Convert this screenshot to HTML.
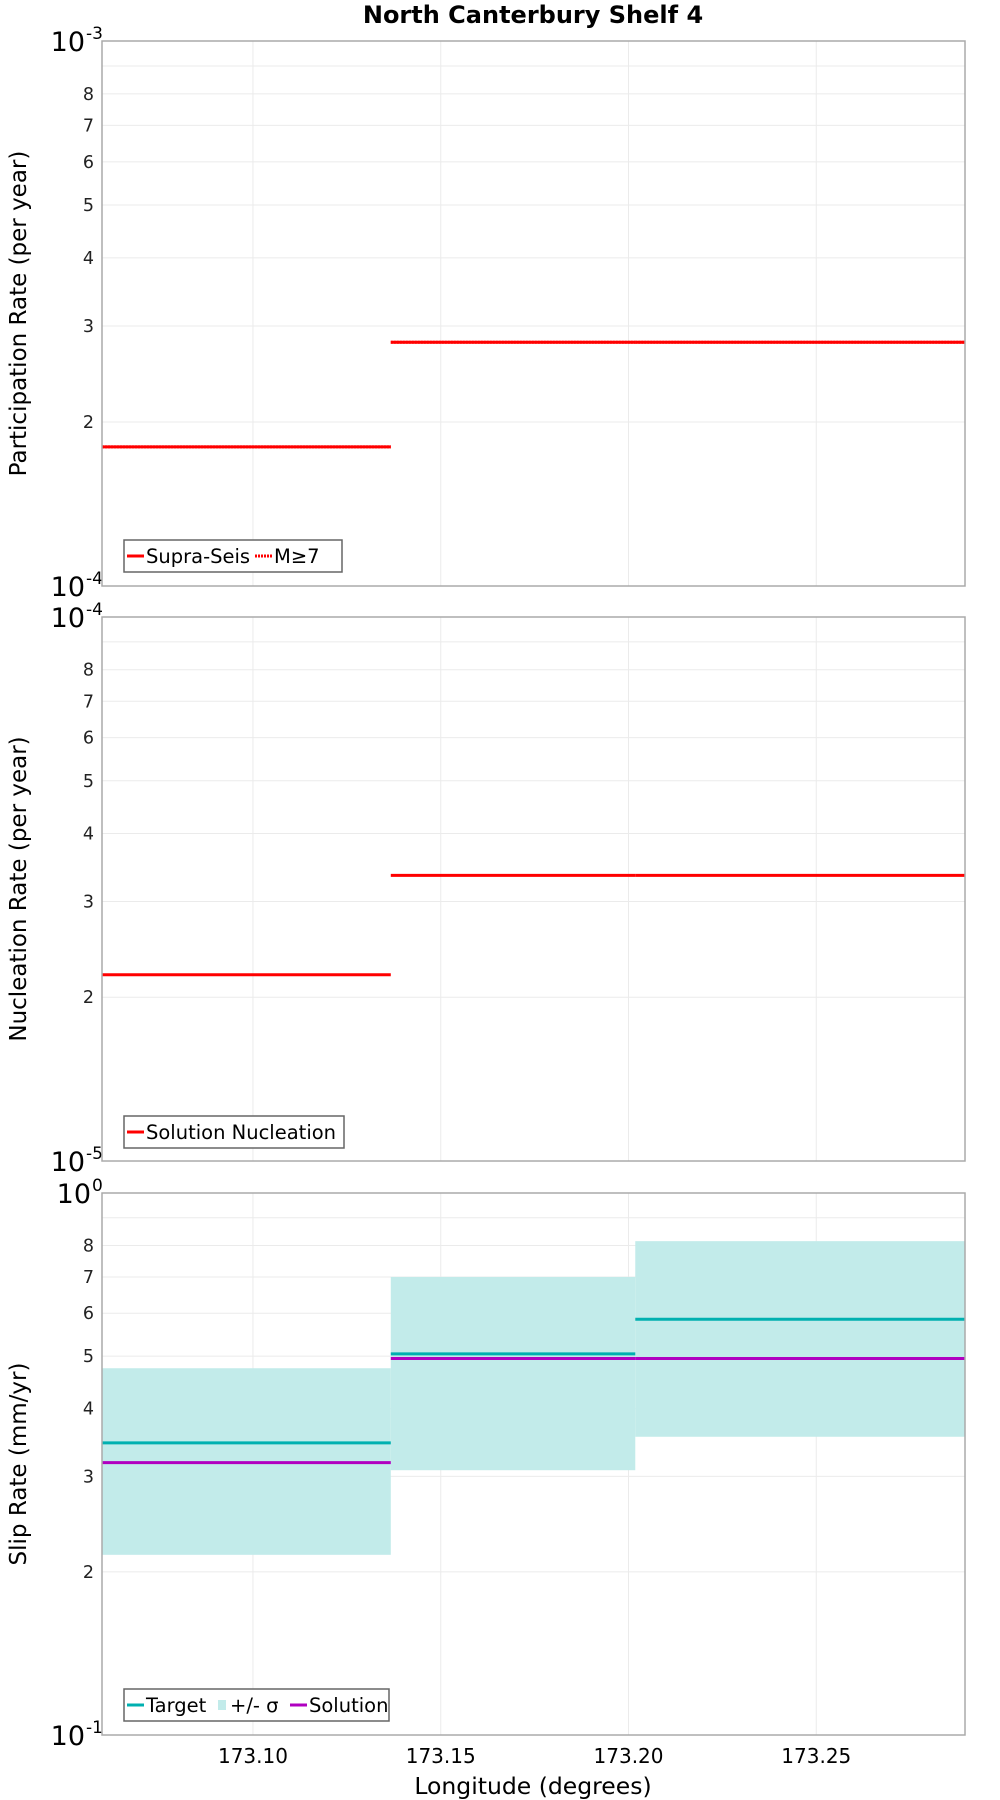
<!DOCTYPE html>
<html><head><meta charset="utf-8"><style>
body{margin:0;background:#fff;}
svg{display:block;font-family:"DejaVu Sans","Liberation Sans",sans-serif;}
</style></head><body>
<svg id="chart" width="1000" height="1800" viewBox="0 0 1000 1800">
<text x="533" y="23" text-anchor="middle" font-size="24" font-weight="bold">North Canterbury Shelf 4</text>
</svg>
<script>
const xTicks=[173.10,173.15,173.20,173.25];
const segEdges=[173.0598,173.1367,173.2018,173.2896];
const partSupra=[1.8e-4,2.8e-4,2.8e-4];
const partM7=[1.8e-4,2.8e-4,2.8e-4];
const nucl=[2.2e-5,3.35e-5,3.35e-5];
const slipTarget=[0.346,0.505,0.585];
const slipSolution=[0.318,0.495,0.495];
const slipLow=[0.215,0.308,0.355];
const slipHigh=[0.475,0.70,0.815];
const minorLabels=[2,3,4,5,6,7,8];

const NS='http://www.w3.org/2000/svg';
const svg=document.getElementById('chart');
const L=102,R=965;
const xs=v=>L+(v-segEdges[0])/(segEdges[3]-segEdges[0])*(R-L);
function mk(tag,attrs,parent){const e=document.createElementNS(NS,tag);for(const k in attrs)e.setAttribute(k,attrs[k]);(parent||svg).appendChild(e);return e;}

const panels=[
 {top:41,bot:586,lo:-4,title:'Participation Rate (per year)',name:'participation'},
 {top:617,bot:1161,lo:-5,title:'Nucleation Rate (per year)',name:'nucleation'},
 {top:1193,bot:1735,lo:-1,title:'Slip Rate (mm/yr)',name:'slip-rate'}
];
panels.forEach((p,pi)=>{
 const ys=v=>p.bot-(Math.log10(v)-p.lo)*(p.bot-p.top);
 p.ys=ys;
 const g=mk('g',{});
 
 
 const base=Math.pow(10,p.lo);
 for(let m=2;m<=9;m++){
  const y=ys(m*base);
  const gl=mk('line',{x1:L,x2:R,y1:y,y2:y,stroke:'#ebebeb','stroke-width':1},g);
  
  
  if(minorLabels.includes(m)){
   const t=mk('text',{x:L-8,y:y+6,'text-anchor':'end','font-size':17.5,fill:'#222'},g);
   t.textContent=m;
   
   
  }
 }
 xTicks.forEach(v=>{
  const gl=mk('line',{x1:xs(v),x2:xs(v),y1:p.top,y2:p.bot,stroke:'#ebebeb','stroke-width':1},g);
  
  
 });
 [[p.top,p.lo+1],[p.bot,p.lo]].forEach(([y,e])=>{
  const eTxt=String(e);
  const ew=eTxt.length>1?15:9;
  const t=mk('text',{x:L-ew-2,y:y+10,'text-anchor':'end','font-size':27},g);
  t.textContent='10';
  
  
  const s=mk('text',{x:L-ew-1,y:y-2,'text-anchor':'start','font-size':17},g);
  s.textContent=eTxt;
  
  
 });
 const at=mk('text',{x:0,y:0,'text-anchor':'middle','font-size':23,transform:`translate(26,${(p.top+p.bot)/2}) rotate(-90)`},g);
 at.textContent=p.title;
 
 
 p.g=g;
});

function seg(p,vals,color,w,name,dash){
 vals.forEach((v,i)=>{
  const y=p.ys(v);
  const a={x1:xs(segEdges[i]),x2:xs(segEdges[i+1]),y1:y,y2:y,stroke:color,'stroke-width':w};
  if(dash)a['stroke-dasharray']=dash;
  const l=mk('line',a,p.g);
  
  
 });
}
slipLow.forEach((lo,i)=>{
 const p=panels[2];
 const r=mk('rect',{x:xs(segEdges[i]),width:xs(segEdges[i+1])-xs(segEdges[i]),y:p.ys(slipHigh[i]),height:p.ys(lo)-p.ys(slipHigh[i]),fill:'#c2ebea'},p.g);
 
 
});
seg(panels[0],partSupra,'#ff0000',3,'supra-seis-line');
seg(panels[0],partM7,'#ff0000',3,'m7-line','2 1');
seg(panels[1],nucl,'#ff0000',3,'nucleation-line');
seg(panels[2],slipTarget,'#00b0b0',3,'target-line');
seg(panels[2],slipSolution,'#b000c0',3,'solution-line');

panels.forEach(p=>{
 const b=mk('rect',{x:L,y:p.top,width:R-L,height:p.bot-p.top,fill:'none',stroke:'#aaa','stroke-width':1.5},p.g);
 
 
});

function legend(p,x,y,w,items){
 const g=mk('g',{},p.g);
 
 
 const b=mk('rect',{x:x,y:y,width:w,height:32,fill:'#fff',stroke:'#666','stroke-width':1.5},g);
 
 
 let cx=x+3;
 items.forEach(it=>{
  if(it.band){
   const s=mk('rect',{x:cx+2,y:y+11,width:8,height:10,fill:'#c2ebea'},g);
   
   
   cx+=14;
  } else {
   const a={x1:cx,x2:cx+17,y1:y+16,y2:y+16,stroke:it.c,'stroke-width':3};
   if(it.dash)a['stroke-dasharray']=it.dash;
   const s=mk('line',a,g);
   
   
   cx+=19;
  }
  const t=mk('text',{x:cx,y:y+23,'font-size':19.5},g);
  t.textContent=it.t;
  
  
  cx+=it.w;
 });
}
legend(panels[0],124,540,218,[{c:'#f00',t:'Supra-Seis',w:109},{c:'#f00',t:'M≥7',w:50,dash:'2 1'}]);
legend(panels[1],124,1116,220,[{c:'#f00',t:'Solution Nucleation',w:190}]);
legend(panels[2],124,1689,265,[{c:'#00b0b0',t:'Target',w:70},{band:true,t:'+/- σ',w:60},{c:'#b000c0',t:'Solution',w:90}]);

xTicks.forEach(v=>{
 const t=mk('text',{x:xs(v),y:1763,'text-anchor':'middle','font-size':20});
 t.textContent=v.toFixed(2);
 
 
});
const xt=mk('text',{x:533,y:1794,'text-anchor':'middle','font-size':23.5});
xt.textContent='Longitude (degrees)';


</script>
</body></html>
